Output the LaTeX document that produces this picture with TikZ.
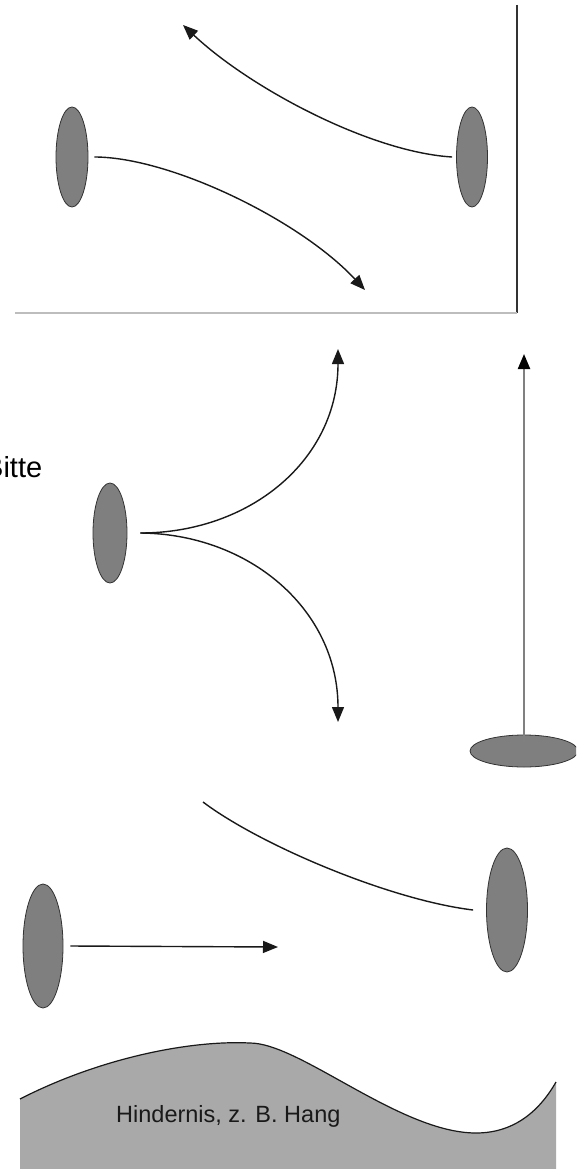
\documentclass[tikz,border=0pt]{standalone}
\usepackage{fontspec}
\setmainfont{Liberation Sans}
\usetikzlibrary{shapes.geometric,arrows.meta}
\definecolor{discgray}{HTML}{7F7F7F}
\definecolor{hillgray}{HTML}{A9A9A9}
\definecolor{framegray}{HTML}{BDBDBD}
\begin{document}
\begin{tikzpicture}[x=1pt,y=-1pt,
  disc/.style={ellipse,draw=black!80,line width=0.8pt,fill=discgray,inner sep=0pt},
  vdisc/.style={disc,minimum width=32pt,minimum height=100pt},
  bigdisc/.style={disc,minimum width=41pt,minimum height=124pt},
  link/.style={line width=1.4pt,draw=black!90},
  arr/.style={link,-{Triangle[length=15pt,width=12pt]}},
  garr/.style={line width=2.2pt,draw=black!50,-{Triangle[length=15pt,width=12pt,color=black]}},
  lbl/.style={inner sep=0pt,text=black}]
\clip (0,0) rectangle (576,1169);
\fill[white] (0,0) rectangle (576,1169);

% ---------- top: wall ----------
\coordinate (wtop) at (517,5);
\coordinate (wbot) at (517,313);
\coordinate (fleft) at (15,313);
\draw[line width=2.2pt,draw=black!80] (wtop) -- (wbot);
\draw[line width=1.2pt,draw=framegray] (fleft) -- (wbot);

\node[vdisc] (L1) at (72,157) {};
\node[vdisc,minimum width=31pt] (R1) at (472,157) {};
\coordinate (t1) at (183,25);
\coordinate (t2) at (365,290);
\draw[arr] ([xshift=-4pt]R1.west) .. controls (370,152) and (250,88) .. (t1);
\draw[arr] ([xshift=6pt]L1.east) .. controls (170,157) and (300,220) .. (t2);

% ---------- middle ----------
\node[lbl,anchor=base west,font=\fontsize{29}{31}\selectfont] (bitte) at (-16,477) {Bitte};
\node[vdisc,minimum width=34pt] (M) at (110,533) {};
\coordinate (mu) at (338,349);
\coordinate (md) at (338,722);
\draw[arr] ([xshift=13pt]M.east) .. controls (250,533) and (338,460) .. (mu);
\draw[arr] ([xshift=13pt]M.east) .. controls (250,534) and (338,610) .. (md);

\node[disc,minimum width=108pt,minimum height=32pt] (H) at (524,751) {};
\coordinate (hu) at (524,354);
\draw[garr] ([yshift=-7pt]H.north) -- (hu);

% ---------- bottom ----------
\node[bigdisc] (R2) at (507,910) {};
\node[bigdisc,minimum width=40pt] (L2) at (43,946) {};
\coordinate (cs) at (203,802);
\draw[link] (cs) .. controls (260,845) and (390,900) .. ([xshift=-13pt]R2.west);
\coordinate (ht) at (278,947);
\draw[arr] ([xshift=7pt]L2.east) -- (ht);

% ---------- hill ----------
\fill[hillgray] (20,1099) .. controls (100,1058) and (190,1040) .. (250,1043)
  .. controls (300,1043) and (400,1133) .. (476,1133)
  .. controls (515,1133) and (540,1110) .. (556,1082)
  -- (556,1169) -- (20,1169) -- cycle;
\draw[line width=1.2pt,draw=black!90] (20,1099) .. controls (100,1058) and (190,1040) .. (250,1043)
  .. controls (300,1043) and (400,1133) .. (476,1133)
  .. controls (515,1133) and (540,1110) .. (556,1082);
\node[lbl,anchor=base west,font=\fontsize{23.5}{26}\selectfont,text=black!90] (hang) at (116,1122) {Hindernis, z. B. Hang};
\end{tikzpicture}
\end{document}
